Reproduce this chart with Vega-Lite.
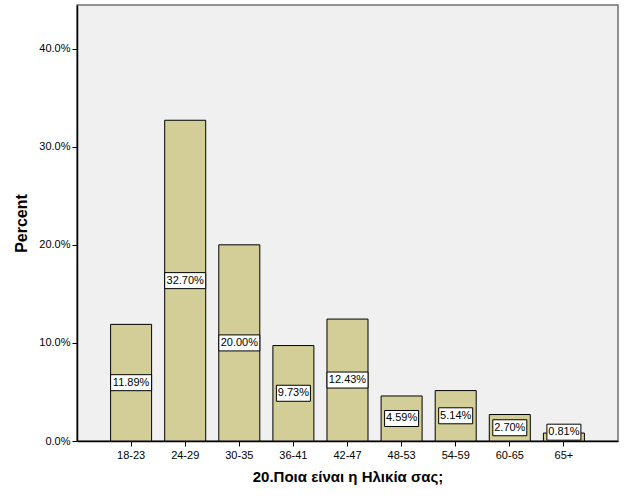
{
  "$schema": "https://vega.github.io/schema/vega-lite/v6.json",
  "width": 541,
  "height": 436,
  "autosize": {"type": "none"},
  "padding": {"left": 77, "top": 5, "right": 8, "bottom": 60},
  "background": "white",
  "config": {
    "font": "Liberation Sans",
    "view": {"fill": "#F0F0F0", "stroke": "#707070", "strokeWidth": 1.5}
  },
  "data": {
    "values": [
      {"age": "18-23", "pct": 11.89},
      {"age": "24-29", "pct": 32.70},
      {"age": "30-35", "pct": 20.00},
      {"age": "36-41", "pct": 9.73},
      {"age": "42-47", "pct": 12.43},
      {"age": "48-53", "pct": 4.59},
      {"age": "54-59", "pct": 5.14},
      {"age": "60-65", "pct": 2.70},
      {"age": "65+", "pct": 0.81}
    ]
  },
  "transform": [
    {"calculate": "max(datum.pct / 2, 0.9)", "as": "labelPos"},
    {"calculate": "format(datum.pct, '.2f') + '%'", "as": "labelText"}
  ],
  "encoding": {
    "x": {
      "field": "age",
      "type": "nominal",
      "sort": null,
      "scale": {"paddingInner": 0.242, "paddingOuter": 0.621},
      "axis": {
        "title": "20.Ποια είναι η Ηλικία σας;",
        "titleFont": "Liberation Sans",
        "titleFontSize": 15,
        "titleFontWeight": "bold",
        "titleColor": "black",
        "titlePadding": 9,
        "labelAngle": 0,
        "labelFontSize": 11,
        "labelColor": "black",
        "labelPadding": 3,
        "tickSize": 5,
        "tickColor": "black",
        "domainColor": "black",
        "domainWidth": 1.5,
        "grid": false
      }
    }
  },
  "layer": [
    {
      "mark": {"type": "bar", "fill": "#D3CE97", "stroke": "#000000", "strokeWidth": 1},
      "encoding": {
        "y": {
          "field": "pct",
          "type": "quantitative",
          "scale": {"domain": [0, 44.45], "nice": false, "zero": true},
          "axis": {
            "title": "Percent",
            "titleFontSize": 16,
            "titleFontWeight": "bold",
            "titleColor": "black",
            "titlePadding": 9,
            "values": [0, 10, 20, 30, 40],
            "labelExpr": "format(datum.value, '.1f') + '%'",
            "labelFontSize": 11,
            "labelColor": "black",
            "tickSize": 5,
            "tickColor": "black",
            "domainColor": "black",
            "domainWidth": 1.5,
            "grid": false
          }
        }
      }
    },
    {
      "transform": [{"filter": "datum.pct >= 10"}],
      "mark": {"type": "rect", "width": 41, "height": 16, "fill": "white", "stroke": "black", "strokeWidth": 1},
      "encoding": {
        "y": {"field": "labelPos", "type": "quantitative"}
      }
    },
    {
      "transform": [{"filter": "datum.pct < 10"}],
      "mark": {"type": "rect", "width": 34, "height": 16, "fill": "white", "stroke": "black", "strokeWidth": 1},
      "encoding": {
        "y": {"field": "labelPos", "type": "quantitative"}
      }
    },
    {
      "mark": {"type": "text", "fontSize": 11, "color": "black", "align": "center", "baseline": "middle"},
      "encoding": {
        "y": {"field": "labelPos", "type": "quantitative"},
        "text": {"field": "labelText"}
      }
    }
  ]
}
